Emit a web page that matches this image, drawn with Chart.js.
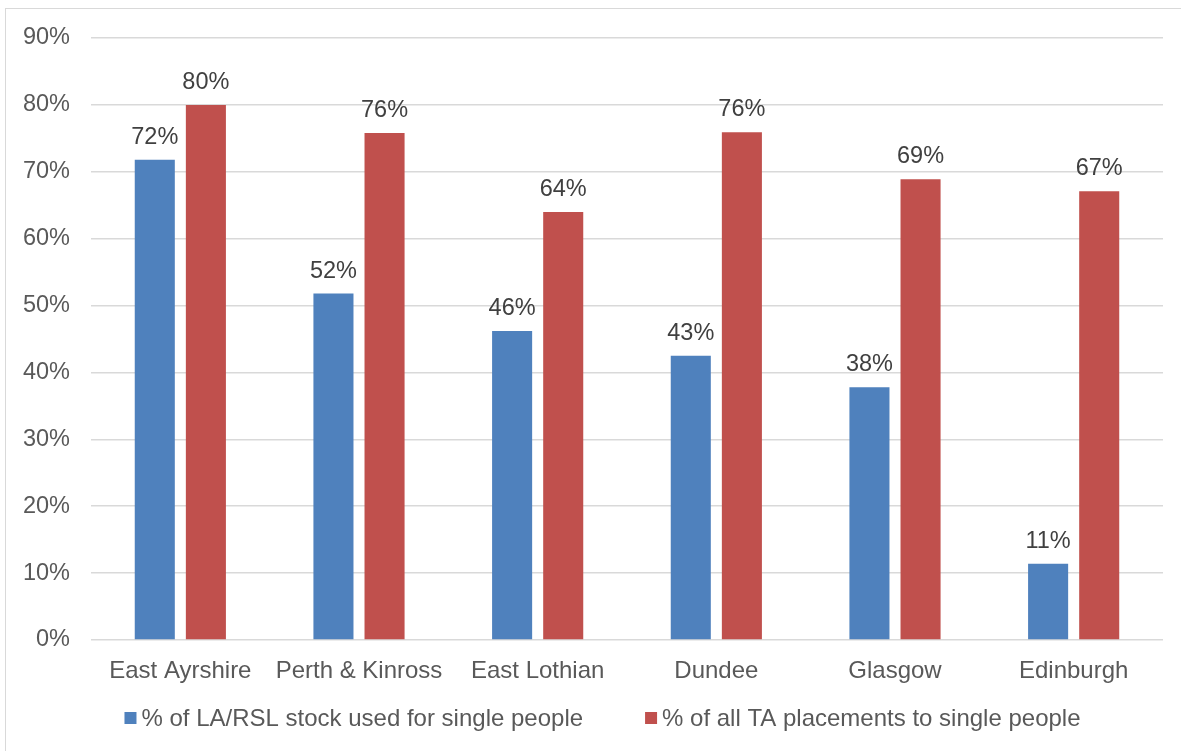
<!DOCTYPE html>
<html>
<head>
<meta charset="utf-8">
<script src="https://cdn.jsdelivr.net/npm/chart.js@4/dist/chart.umd.min.js"></script>
<style>
  html, body { margin: 0; padding: 0; background: #ffffff; }
  #wrap { position: relative; width: 1181px; height: 751px; overflow: hidden; }
  #frame { position: absolute; left: 5px; top: 8px; width: 1190px; height: 800px;
           border: 1.5px solid #d9d9d9; box-sizing: border-box; }
  canvas { position: absolute; left: 0; top: 0; }
</style>
</head>
<body>
<div id="wrap">
  <div id="frame"></div>
  <canvas id="chart" width="1181" height="751"></canvas>
</div>
<script>
// Share of single people, by local authority (percent)
const areas = ['East Ayrshire', 'Perth & Kinross', 'East Lothian', 'Dundee', 'Glasgow', 'Edinburgh'];
const stockForSingles = [71.8, 51.8, 46.2, 42.5, 37.8, 11.4];
const taPlacementsToSingles = [80.0, 75.8, 64.0, 75.9, 68.9, 67.1];
const seriesNames = ['% of LA/RSL stock used for single people', '% of all TA placements to single people'];
const yTicks = [0, 10, 20, 30, 40, 50, 60, 70, 80, 90];

const fontFamily = '"Liberation Sans", Arial, sans-serif';
const fontSize = 23.5;
const textSize = 24;

// Writes each bar's rounded value above it
const valueLabels = {
  id: 'valueLabels',
  afterDatasetsDraw(chart) {
    const ctx = chart.ctx;
    ctx.save();
    ctx.font = fontSize + 'px ' + fontFamily;
    ctx.fillStyle = '#404040';
    ctx.textAlign = 'center';
    ctx.textBaseline = 'alphabetic';
    chart.data.datasets.forEach((ds, di) => {
      chart.getDatasetMeta(di).data.forEach((bar, i) => {
        ctx.fillText(Math.round(ds.data[i]) + '%', bar.x, bar.y - 16);
      });
    });
    ctx.restore();
  }
};

// Legend row under the axis: square swatch + series name for each dataset
const bottomLegend = {
  id: 'bottomLegend',
  afterDraw(chart) {
    const ctx = chart.ctx;
    const box = 12, textGap = 5, itemGap = 62;
    ctx.save();
    ctx.font = textSize + 'px ' + fontFamily;
    ctx.textBaseline = 'middle';
    ctx.textAlign = 'left';
    const items = chart.data.datasets.map(ds => ({
      color: ds.backgroundColor,
      text: ds.label,
      w: box + textGap + ctx.measureText(ds.label).width
    }));
    const total = items.reduce((s, it) => s + it.w, 0) + itemGap * (items.length - 1);
    let x = chart.width / 2 + 12 - total / 2;
    const y = 718;
    items.forEach(it => {
      ctx.fillStyle = it.color;
      ctx.fillRect(x, y - box / 2, box, box);
      ctx.fillStyle = '#595959';
      ctx.fillText(it.text, x + box + textGap, y + 1);
      x += it.w + itemGap;
    });
    ctx.restore();
  }
};

new Chart(document.getElementById('chart'), {
  type: 'bar',
  data: {
    labels: areas,
    datasets: [
      { label: seriesNames[0], data: stockForSingles, backgroundColor: '#4F81BD' },
      { label: seriesNames[1], data: taPlacementsToSingles, backgroundColor: '#C0504D' }
    ]
  },
  options: {
    responsive: false,
    animation: false,
    devicePixelRatio: 1,
    categoryPercentage: 0.572,
    barPercentage: 0.784,
    layout: { padding: { top: 38, right: 18, bottom: 61, left: 0 } },
    plugins: {
      tooltip: { enabled: false },
      legend: { display: false }
    },
    scales: {
      x: {
        afterFit(s) { s.height = 50; },
        grid: { display: false },
        border: { display: false },
        ticks: { font: { size: textSize, family: fontFamily }, color: '#595959', padding: 9, maxRotation: 0 }
      },
      y: {
        min: 0,
        max: 90,
        afterFit(s) { s.width = 91; },
        afterBuildTicks(s) { s.ticks = yTicks.map(v => ({ value: v })); },
        grid: { color: '#d9d9d9', lineWidth: 1.5, drawTicks: false },
        border: { display: false },
        ticks: {
          font: { size: fontSize, family: fontFamily },
          color: '#595959',
          padding: 21,
          callback: v => v + '%'
        }
      }
    }
  },
  plugins: [valueLabels, bottomLegend]
});
</script>
</body>
</html>
